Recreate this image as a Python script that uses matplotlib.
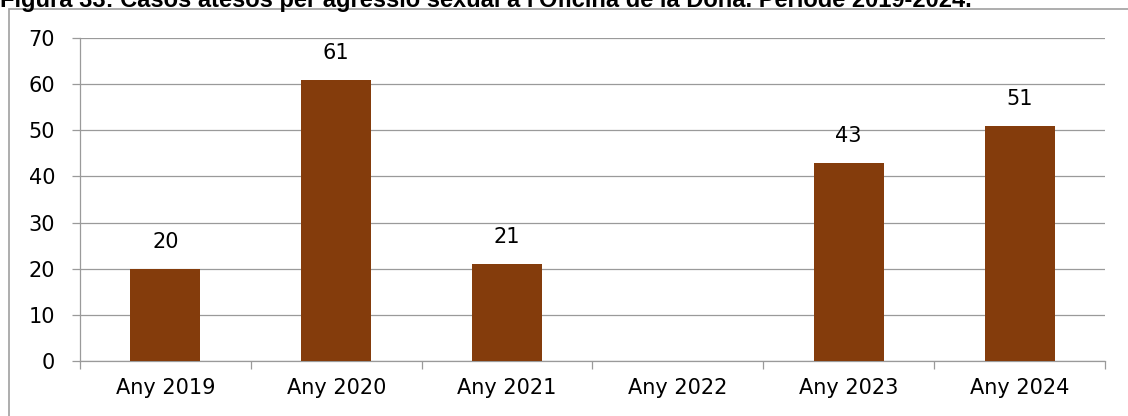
import matplotlib.pyplot as plt
from matplotlib.patches import Rectangle

years = ['Any 2019', 'Any 2020', 'Any 2021', 'Any 2022', 'Any 2023', 'Any 2024']
cases = [20, 61, 21, 0, 43, 51]
shown = [True, True, True, False, True, True]  # 2022 has no bar / label

title = "Figura 33: Casos atesos per agressió sexual a l'Oficina de la Dona. Període 2019-2024."

plt.rcParams['font.family'] = ['DejaVu Sans']

fig = plt.figure(figsize=(11.28, 4.16), dpi=100)
ax = fig.add_axes([80 / 1128, 1 - 361 / 416, (1105 - 80) / 1128, (361 - 38) / 416])

# outer chart frame (partly cut off by the image edge)
fig.patches.append(Rectangle((9 / 1128, -0.2), 1.2, 1.2 - 9 / 416, transform=fig.transFigure,
                             fill=False, edgecolor='#a0a0a0', lw=1.2, clip_on=False))

# title, top half clipped by the image edge as in the source
fig.text(0.0, 1 - 7 / 416, title, fontsize=17, fontweight='bold',
         family='Liberation Sans', va='baseline', ha='left')

x = list(range(len(years)))
bars = ax.bar(x, cases, width=0.41, color='#843C0C', zorder=3)

for xi, v, s in zip(x, cases, shown):
    if s:
        ax.annotate(str(v), (xi, v), xytext=(0, 12), textcoords='offset points',
                    ha='center', va='bottom', fontsize=15)

ax.set_xlim(-0.5, len(years) - 0.5)
ax.set_ylim(0, 70)
ax.set_yticks(range(0, 71, 10))
ax.set_xticks(x)
ax.set_xticklabels(years)
ax.set_xticks([i - 0.5 for i in range(len(years) + 1)], minor=True)

ax.grid(axis='y', color='#9a9a9a', lw=0.9, zorder=0)
for sp in ['top', 'right']:
    ax.spines[sp].set_visible(False)
for sp in ['left', 'bottom']:
    ax.spines[sp].set_color('#9a9a9a')
    ax.spines[sp].set_linewidth(0.9)

ax.tick_params(axis='y', direction='out', length=6, width=0.9, color='#9a9a9a',
               labelsize=15, pad=12)
ax.tick_params(axis='x', which='major', length=0, labelsize=15, pad=12)
ax.tick_params(axis='x', which='minor', direction='out', length=6, width=0.9, color='#9a9a9a')

fig.savefig('out.png', dpi=100)
